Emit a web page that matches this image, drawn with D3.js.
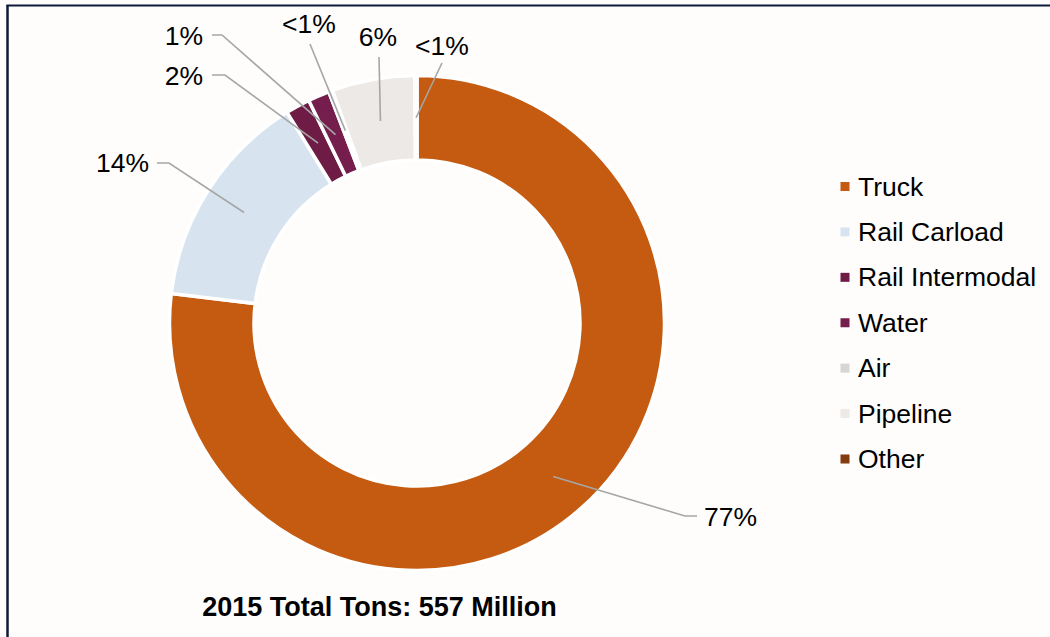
<!DOCTYPE html>
<html>
<head>
<meta charset="utf-8">
<script src="https://cdn.jsdelivr.net/npm/d3@7"></script>
<style>
  html, body { margin: 0; padding: 0; background: #FEFDFC; }
  svg { display: block; font-family: "Liberation Sans", Arial, sans-serif; }
</style>
</head>
<body>
<svg id="chart" width="1050" height="637"></svg>
<script>
// ---- data ----
const categories = ["Truck", "Rail Carload", "Rail Intermodal", "Water", "Air", "Pipeline", "Other"];
const shares = [76.9, 14.3, 1.6, 1.4, 0.25, 5.4, 0.15];           // percent of total tons
const shareLabels = ["77%", "14%", "2%", "1%", "<1%", "6%", "<1%"];
const colors = ["#C55A11", "#D7E4EF", "#6E1C46", "#751D4D", "#D6D6D2", "#ECE9E6", "#843C0C"];
const title = "2015 Total Tons: 557 Million";

// ---- layout (positions only) ----
const W = 1050, H = 637;
const cx = 417, cy = 323, rOuter = 247.5, rInner = 163;
// label anchor and optional elbow for leader lines
const labelLayout = [
  { x: 704, y: 526, anchor: "start", line: [[685, 516], [697, 516]] },
  { x: 149, y: 172, anchor: "end",   line: [[169, 163], [157, 163]] },
  { x: 203, y: 85,  anchor: "end",   line: [[225, 75], [212, 75]] },
  { x: 203, y: 45,  anchor: "end",   line: [[222, 35], [212, 35]] },
  { x: 309, y: 33,  anchor: "middle", line: [[310, 44]] },
  { x: 378, y: 46,  anchor: "middle", line: [[379, 57]] },
  { x: 442, y: 55,  anchor: "middle", line: [[442, 63]] }
];

const svg = d3.select("#chart");
svg.append("rect").attr("width", W).attr("height", H).attr("fill", "#FEFDFC");

// frame (left and top edges visible)
svg.append("line").attr("x1", 7.5).attr("y1", 5).attr("x2", 7.5).attr("y2", H)
  .attr("stroke", "#0E1A3A").attr("stroke-width", 2.5);
svg.append("line").attr("x1", 6.5).attr("y1", 5.5).attr("x2", W).attr("y2", 5.5)
  .attr("stroke", "#0E1A3A").attr("stroke-width", 2);

const pie = d3.pie().sort(null).value(d => d.v).startAngle(0).endAngle(2 * Math.PI);
const data = categories.map((c, i) => ({ c, v: shares[i], label: shareLabels[i], color: colors[i], i }));
const arcs = pie(data);
const arc = d3.arc().innerRadius(rInner).outerRadius(rOuter);

const g = svg.append("g").attr("transform", `translate(${cx},${cy})`);
g.selectAll("path.slice").data(arcs).enter().append("path")
  .attr("class", "slice")
  .attr("d", arc)
  .attr("fill", d => d.data.color)
  .attr("stroke", "#FFFFFF")
  .attr("stroke-width", 3.5)
  .attr("stroke-linejoin", "miter");

// leader lines
arcs.forEach((a, i) => {
  const c = arc.centroid(a);
  const pts = [[c[0] + cx, c[1] + cy]].concat(labelLayout[i].line);
  svg.append("path")
    .attr("d", d3.line()(pts))
    .attr("fill", "none")
    .attr("stroke", "#A6A6A6")
    .attr("stroke-width", 1.6);
});

// labels
arcs.forEach((a, i) => {
  const L = labelLayout[i];
  svg.append("text")
    .attr("x", L.x).attr("y", L.y)
    .attr("text-anchor", L.anchor)
    .attr("font-size", 26.5)
    .attr("fill", "#000")
    .text(a.data.label);
});

// legend
const legendY = d3.scalePoint().domain(categories).range([186.5, 459]);
const lg = svg.append("g");
categories.forEach((c, i) => {
  const y = legendY(c);
  lg.append("rect").attr("x", 840.5).attr("y", y - 4.5).attr("width", 9).attr("height", 9)
    .attr("fill", colors[i]);
  lg.append("text").attr("x", 858).attr("y", y + 9)
    .attr("font-size", 26.5).attr("fill", "#000").text(c);
});

// title
svg.append("text").attr("x", 379.5).attr("y", 616)
  .attr("text-anchor", "middle")
  .attr("font-size", 27).attr("font-weight", "bold").attr("fill", "#000")
  .text(title);
</script>
</body>
</html>
